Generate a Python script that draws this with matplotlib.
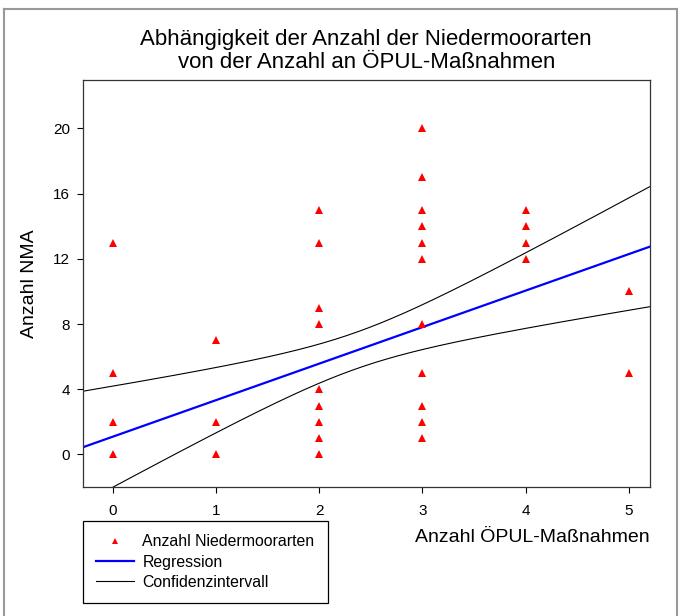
import numpy as np
import matplotlib
matplotlib.use("Agg")
import matplotlib.pyplot as plt
from matplotlib.lines import Line2D

plt.rcParams['font.family'] = ['Liberation Sans', 'DejaVu Sans']

# --- data ---
x_opul = [0, 0, 0, 0,
          1, 1, 1,
          2, 2, 2, 2, 2, 2, 2, 2, 2,
          3, 3, 3, 3, 3, 3, 3, 3, 3, 3, 3,
          4, 4, 4, 4,
          5, 5]
y_nma = [13, 5, 2, 0,
         7, 2, 0,
         15, 13, 9, 8, 4, 3, 2, 1, 0,
         20, 17, 15, 14, 13, 12, 8, 5, 3, 2, 1,
         15, 14, 13, 12,
         10, 5]

# regression line and confidence band (parameters)
reg_intercept = 1.09
reg_slope = 2.24
ci_center_x = 2.35        # x where the band is narrowest
ci_min_halfwidth = 1.12   # half-width at that x
ci_growth = 1.23          # asymptotic growth of the half-width per unit x

x_ticks = [0, 1, 2, 3, 4, 5]
y_ticks = [0, 4, 8, 12, 16, 20]
x_limits = (-0.29, 5.2)
y_limits = (-2.0, 22.97)

title = "Abhängigkeit der Anzahl der Niedermoorarten\nvon der Anzahl an ÖPUL-Maßnahmen"
x_label = "Anzahl ÖPUL-Maßnahmen"
y_label = "Anzahl NMA"
legend_labels = ["Anzahl Niedermoorarten", "Regression", "Confidenzintervall"]

# --- figure ---
W, H = 680, 616
fig = plt.figure(figsize=(W / 100, H / 100), dpi=100)
ax = fig.add_axes([83 / W, 1 - 487 / H, (649.5 - 83) / W, (487 - 80) / H])

xs = np.linspace(x_limits[0], x_limits[1], 300)
fit = reg_intercept + reg_slope * xs
half = np.sqrt(ci_min_halfwidth ** 2 + ci_growth ** 2 * (xs - ci_center_x) ** 2)

ax.plot(xs, fit + half, color='black', lw=0.8)
ax.plot(xs, fit - half, color='black', lw=0.8)
ax.plot(xs, fit, color='#0000ff', lw=1.6)
ax.plot(x_opul, y_nma, linestyle='none', marker='^', color='#ff0000',
        markersize=6, markeredgewidth=0)

ax.set_xlim(*x_limits)
ax.set_ylim(*y_limits)
ax.set_xticks(x_ticks)
ax.set_yticks(y_ticks)
ax.tick_params(direction='out', length=4.5, width=0.8, labelsize=11,
               colors='black', top=False, right=False)
ax.tick_params(axis='x', pad=8)
ax.tick_params(axis='y', pad=5)
for s in ax.spines.values():
    s.set_linewidth(0.9)
    s.set_color('#333333')

ax.set_title(title, fontsize=16, pad=9, linespacing=1.12)
ax.set_ylabel(y_label, fontsize=14, labelpad=11)
fig.text(650 / W, 1 - 537 / H, x_label, fontsize=14, ha='right', va='center')

handles = [
    Line2D([], [], linestyle='none', marker='^', color='#ff0000',
           markersize=5, markeredgewidth=0),
    Line2D([], [], color='#0000ff', lw=1.6),
    Line2D([], [], color='black', lw=0.8),
]
leg = fig.legend(handles, legend_labels, loc='upper left',
                 bbox_to_anchor=(83 / W, 1 - 521 / H),
                 bbox_transform=fig.transFigure,
                 fontsize=11.4, frameon=True, fancybox=False,
                 edgecolor='black', framealpha=1, borderpad=0.85,
                 handlelength=2.4, handletextpad=0.5, labelspacing=0.32,
                 borderaxespad=0)
leg.get_frame().set_linewidth(0.9)

# outer gray frame of the figure
frame_col = '#999999'
fig.add_artist(Line2D([3.5 / W, 676.5 / W], [1 - 9 / H, 1 - 9 / H],
                      transform=fig.transFigure, color=frame_col, lw=1.5))
fig.add_artist(Line2D([3.5 / W, 3.5 / W], [1 - 9 / H, 0],
                      transform=fig.transFigure, color=frame_col, lw=1.5))
fig.add_artist(Line2D([676.5 / W, 676.5 / W], [1 - 9 / H, 0],
                      transform=fig.transFigure, color=frame_col, lw=1.5))

fig.savefig('out.png', dpi=100)
